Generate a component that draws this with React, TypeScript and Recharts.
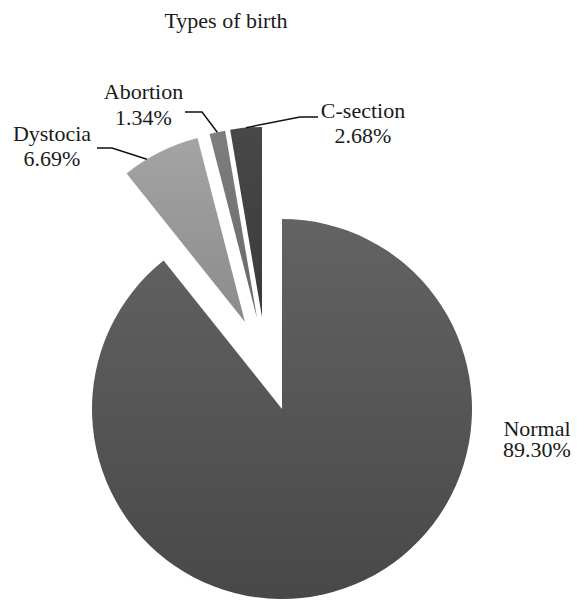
import { PieChart, Pie, Cell } from "recharts";

// Types of birth, share of all births (%)
const categories = ["Normal", "Dystocia", "Abortion", "C-section"];
const shares = [89.3, 6.69, 1.34, 2.68];
const shareLabels = ["89.30%", "6.69%", "1.34%", "2.68%"];

const pieData = categories.map((name, i) => ({ name, value: shares[i] }));

const WIDTH = 584;
const HEIGHT = 613;
const CENTER = { x: 282, y: 409 };
const RADIUS = 190;
const FONT = "'Liberation Serif', 'Times New Roman', serif";

// how far each slice is pulled out of the pie (like Excel's point explosion)
const explode = [
  [0, 0],
  [-37, -87],
  [-25, -91],
  [-20, -92],
];

// top / bottom colour of each slice's gradient
const shades = [
  ["#636363", "#484848"],
  ["#a4a4a4", "#8b8b8b"],
  ["#7e7e7e", "#696969"],
  ["#484848", "#3a3a3a"],
];

type LabelSpot = {
  x: number;
  y: number;
  gap: number;
  leader?: [number, number][];
  at?: number;
};

const labelSpots: LabelSpot[] = [
  { x: 537, y: 436, gap: 21 },
  { x: 52, y: 141, gap: 25, leader: [[97, 148], [112, 148]], at: 0.31 },
  { x: 143.5, y: 98.7, gap: 26, leader: [[185, 112], [202, 112]], at: 0.5 },
  { x: 363, y: 118.3, gap: 25, leader: [[318, 117], [300, 117]], at: 0.5 },
];

const RAD = Math.PI / 180;

const renderLabel = (i: number) => (props: any) => {
  if (props.index !== i) return null;
  const spot = labelSpots[i];
  let line = null;
  if (spot.leader) {
    const t = spot.at ?? 0.5;
    const angle = props.startAngle + t * (props.endAngle - props.startAngle);
    const ex = props.cx + props.outerRadius * Math.cos(-angle * RAD);
    const ey = props.cy + props.outerRadius * Math.sin(-angle * RAD);
    const pts = [...spot.leader, [ex, ey]].map((p) => p.join(",")).join(" ");
    line = <polyline points={pts} fill="none" stroke="#111" strokeWidth={1.5} />;
  }
  return (
    <g>
      {line}
      <text
        x={spot.x}
        y={spot.y}
        textAnchor="middle"
        fontFamily={FONT}
        fontSize={22}
        fill="#1a1a1a"
      >
        <tspan x={spot.x}>{categories[i]}</tspan>
        <tspan x={spot.x} dy={spot.gap}>
          {shareLabels[i]}
        </tspan>
      </text>
    </g>
  );
};

export default function App() {
  return (
    <div
      style={{
        position: "absolute",
        left: 0,
        top: 0,
        width: WIDTH,
        height: HEIGHT,
        background: "#fff",
      }}
    >
      <svg
        width={WIDTH}
        height={HEIGHT}
        style={{ position: "absolute", left: 0, top: 0 }}
      >
        <defs>
          {shades.map(([top, bottom], i) => (
            <linearGradient key={i} id={`shade-${i}`} x1="0" y1="0" x2="0" y2="1">
              <stop offset="0%" stopColor={top} />
              <stop offset="100%" stopColor={bottom} />
            </linearGradient>
          ))}
        </defs>
        <text
          x={226}
          y={28}
          textAnchor="middle"
          fontFamily={FONT}
          fontSize={22}
          fill="#1a1a1a"
        >
          Types of birth
        </text>
      </svg>
      <div style={{ position: "absolute", left: 0, top: 0 }}>
        <PieChart
          width={WIDTH}
          height={HEIGHT}
          margin={{ top: 0, right: 0, bottom: 0, left: 0 }}
        >
          {categories.map((_, i) => (
            <Pie
              key={i}
              data={pieData}
              dataKey="value"
              nameKey="name"
              cx={CENTER.x + explode[i][0]}
              cy={CENTER.y + explode[i][1]}
              outerRadius={RADIUS}
              startAngle={90}
              endAngle={-270}
              stroke="none"
              labelLine={false}
              label={renderLabel(i)}
              isAnimationActive={false}
            >
              {pieData.map((_, j) => (
                <Cell key={j} fill={j === i ? `url(#shade-${j})` : "none"} />
              ))}
            </Pie>
          ))}
        </PieChart>
      </div>
    </div>
  );
}
